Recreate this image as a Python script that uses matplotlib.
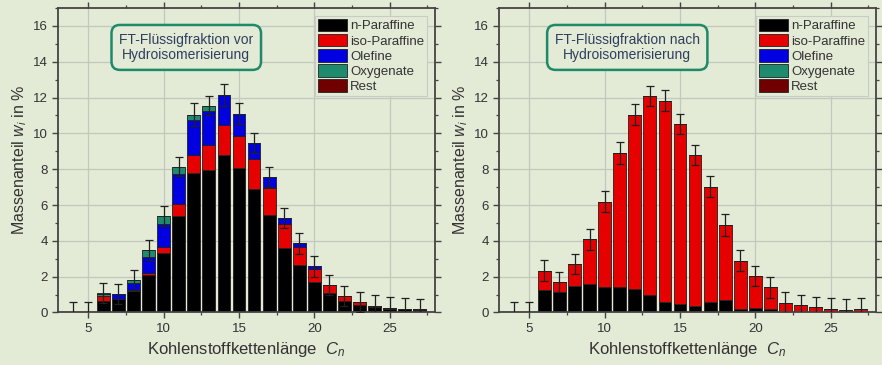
import matplotlib
matplotlib.use("Agg")
import matplotlib.pyplot as plt
import numpy as np
from matplotlib.ticker import MultipleLocator

plt.rcParams['font.family'] = ['Liberation Sans', 'DejaVu Sans']
plt.rcParams['mathtext.fontset'] = 'custom'
plt.rcParams['mathtext.rm'] = 'Liberation Sans'
plt.rcParams['mathtext.it'] = 'Liberation Sans:italic'

# ---- data ----
carbon = list(range(4, 28))
series_names = ["n-Paraffine", "iso-Paraffine", "Olefine", "Oxygenate", "Rest"]

# before hydroisomerisation
n_vor   = [0.05, 0.0, 0.63, 0.73, 1.21, 2.08, 3.30, 5.39, 7.78, 7.97, 8.80, 8.06, 6.88, 5.45, 3.62, 2.65, 1.72, 1.06, 0.63, 0.41, 0.28, 0.20, 0.19, 0.15]
iso_vor = [0.0, 0.0, 0.30, 0.0, 0.07, 0.13, 0.33, 0.65, 1.03, 1.40, 1.68, 1.81, 1.68, 1.49, 1.30, 0.99, 0.69, 0.47, 0.30, 0.17, 0.09, 0.06, 0.03, 0.02]
ole_vor = [0.0, 0.0, 0.0, 0.29, 0.34, 0.90, 1.30, 1.70, 1.92, 1.90, 1.64, 1.23, 0.90, 0.60, 0.34, 0.22, 0.16, 0.0, 0.0, 0.0, 0.0, 0.0, 0.0, 0.0]
oxy_vor = [0.0, 0.0, 0.10, 0.03, 0.18, 0.37, 0.45, 0.41, 0.32, 0.28, 0.0, 0.0, 0.0, 0.0, 0.0, 0.0, 0.0, 0.0, 0.0, 0.0, 0.0, 0.0, 0.0, 0.0]
rest_vor = [0.0, 0.0, 0.03, 0.0, 0.0, 0.0, 0.0, 0.0, 0.0, 0.0, 0.0, 0.0, 0.0, 0.0, 0.0, 0.0, 0.0, 0.0, 0.0, 0.0, 0.0, 0.0, 0.0, 0.0]
err_vor = [0.55, 0.60, 0.56, 0.56, 0.57, 0.55, 0.56, 0.55, 0.62, 0.55, 0.61, 0.60, 0.54, 0.56, 0.56, 0.60, 0.58, 0.57, 0.56, 0.58, 0.58, 0.60, 0.60, 0.58]

# after hydroisomerisation
n_nach   = [0.0, 0.0, 1.25, 1.16, 1.47, 1.59, 1.40, 1.44, 1.29, 0.95, 0.56, 0.49, 0.35, 0.56, 0.69, 0.19, 0.26, 0.17, 0.04, 0.03, 0.02, 0.01, 0.01, 0.01]
iso_nach = [0.0, 0.0, 1.08, 0.56, 1.22, 2.50, 4.78, 7.46, 9.75, 11.12, 11.27, 10.05, 8.44, 6.47, 4.20, 2.70, 1.79, 1.23, 0.50, 0.36, 0.28, 0.21, 0.14, 0.21]
ole_nach = [0.0] * 24
oxy_nach = [0.0] * 24
rest_nach = [0.0] * 24
err_nach = [0.60, 0.60, 0.60, 0.56, 0.57, 0.59, 0.59, 0.60, 0.60, 0.56, 0.57, 0.56, 0.58, 0.60, 0.60, 0.58, 0.56, 0.58, 0.58, 0.58, 0.58, 0.56, 0.58, 0.56]

titles = ["FT-Flüssigfraktion vor\nHydroisomerisierung",
          "FT-Flüssigfraktion nach\nHydroisomerisierung"]

colors = ["#000000", "#e60000", "#0000e0", "#1e8a6e", "#700000"]
bg = "#e3ead6"
txtc = "#333333"

fig = plt.figure(figsize=(8.82, 3.65), dpi=100, facecolor=bg)
positions = [[0.066, 0.144, 0.427, 0.834], [0.566, 0.144, 0.427, 0.834]]
panels = [
    ([n_vor, iso_vor, ole_vor, oxy_vor, rest_vor], err_vor),
    ([n_nach, iso_nach, ole_nach, oxy_nach, rest_nach], err_nach),
]

x = np.array(carbon)
for i, (pos, (stack, err)) in enumerate(zip(positions, panels)):
    ax = fig.add_axes(pos)
    ax.set_facecolor(bg)
    ax.set_axisbelow(True)
    ax.grid(True, which='major', color='#c2c8bc', linewidth=0.9)
    bottom = np.zeros(len(x))
    for vals, col, name in zip(stack, colors, series_names):
        v = np.array(vals)
        ax.bar(x, v, width=0.85, bottom=bottom, color=col, edgecolor='#202020',
               linewidth=0.6, label=name, zorder=2)
        bottom = bottom + v
    ax.errorbar(x, bottom, yerr=err, fmt='none', ecolor='#202020', elinewidth=0.9,
                capsize=2.8, capthick=0.9, zorder=3)
    ax.set_xlim(3, 28)
    ax.set_ylim(0, 17)
    ax.xaxis.set_major_locator(MultipleLocator(5))
    ax.xaxis.set_minor_locator(MultipleLocator(2.5))
    ax.yaxis.set_major_locator(MultipleLocator(2))
    ax.yaxis.set_minor_locator(MultipleLocator(1))
    ax.tick_params(axis='both', which='major', labelsize=9.5, colors='#444444',
                   labelcolor=txtc, length=4, width=1)
    ax.tick_params(axis='both', which='minor', length=2.5, width=0.9, colors='#444444')
    ax.tick_params(axis='y', which='both', direction='out', right=True)
    ax.tick_params(axis='x', which='both', direction='out', top=True)
    for sp in ax.spines.values():
        sp.set_color('#444444')
        sp.set_linewidth(1.3)
    ax.set_xlabel("Kohlenstoffkettenlänge  $C_n$", fontsize=12, color=txtc, labelpad=4)
    ax.set_ylabel("Massenanteil $w_i$ in %", fontsize=11.5, color=txtc, labelpad=3)
    leg = ax.legend(loc='upper right', fontsize=9.5, handlelength=2.2, handleheight=1.1,
                    labelspacing=0.1, borderpad=0.2, handletextpad=0.25,
                    borderaxespad=0.6, frameon=True, fancybox=False)
    leg.get_frame().set_facecolor(bg)
    leg.get_frame().set_edgecolor('#c8ccc4')
    leg.get_frame().set_linewidth(0.8)
    leg.get_frame().set_alpha(1)
    for t in leg.get_texts():
        t.set_color(txtc)
    ax.text(11.5, 14.8, titles[i], ha='center', va='center', fontsize=10,
            color='#2e3f5e', linespacing=1.15,
            bbox=dict(boxstyle='round,pad=0.55,rounding_size=0.6', facecolor=bg,
                      edgecolor='#1e8a6a', linewidth=1.8), zorder=4)

fig.savefig("out.png", dpi=100, facecolor=bg)
